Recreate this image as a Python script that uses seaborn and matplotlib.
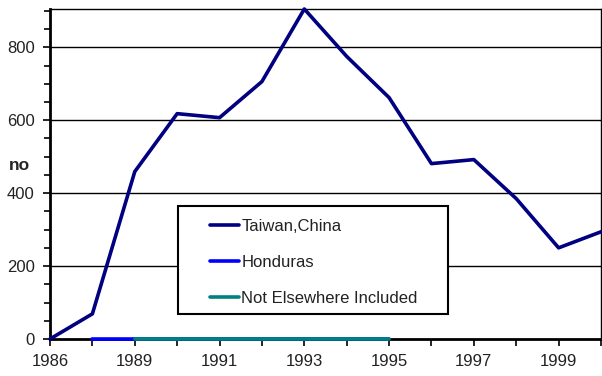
import numpy as np
import pandas as pd
import matplotlib
matplotlib.use("Agg")
import matplotlib.pyplot as plt
import seaborn as sns
from matplotlib.ticker import MultipleLocator
from matplotlib.patches import Rectangle

# category axis (one year is skipped in the source)
years = [1986, 1987, 1989, 1990, 1991, 1992, 1993, 1994, 1995, 1996, 1997, 1998, 1999, 2000]
taiwan = [0, 69, 459, 618, 607, 706, 905, 775, 662, 481, 492, 385, 250, 294]
honduras = [np.nan, 0, 0, 0, 0, 0, 0, 0, 0, np.nan, np.nan, np.nan, np.nan, np.nan]
nei = [np.nan, np.nan, 0, 0, 0, 0, 0, 0, 0, np.nan, np.nan, np.nan, np.nan, np.nan]

series_names = ["Taiwan,China", "Honduras", "Not Elsewhere Included"]
series_colors = ["#000080", "#0000FF", "#008080"]

pos = np.arange(len(years))
df = pd.DataFrame({"pos": pos, series_names[0]: taiwan,
                   series_names[1]: honduras, series_names[2]: nei})

sns.set_style("white")
plt.rcParams["font.family"] = ["Liberation Sans", "DejaVu Sans"]

fig = plt.figure(figsize=(6.02, 3.76), dpi=100)
ax = fig.add_axes([50 / 602, 37 / 376, 551 / 602, 330 / 376])

for name, col in zip(series_names, series_colors):
    sub = df[["pos", name]].dropna()
    sns.lineplot(data=sub, x="pos", y=name, ax=ax, color=col,
                 linewidth=2.6, label=name, clip_on=False)
for ln in ax.get_lines():
    ln.set_zorder(3)

ax.set_xlim(0, len(years) - 1)
ax.set_ylim(0, 905)

for y in [200, 400, 600, 800]:
    ax.axhline(y, color="black", linewidth=1.0, zorder=0)

ax.set_xticks(pos)
ax.set_xticklabels([str(y) if i % 2 == 0 else "" for i, y in enumerate(years)],
                   fontsize=12)
ax.set_yticks([0, 200, 400, 600, 800])
ax.set_yticklabels(["0", "200", "400", "600", "800"], fontsize=12)
ax.yaxis.set_minor_locator(MultipleLocator(50))
ax.tick_params(axis="both", which="major", direction="out", length=5, width=1.2,
               color="black", bottom=True, left=True, pad=6, labelcolor="#222222")
ax.tick_params(axis="y", which="minor", direction="out", length=4, width=1.2,
               color="black", left=True)

ax.set_xlabel("")
ax.set_ylabel("no", fontsize=12.5, fontweight="bold", rotation=0, labelpad=6)
ax.yaxis.set_label_coords(-0.055, 0.503)

for side, sp in ax.spines.items():
    sp.set_color("black")
    sp.set_linewidth(1.0)
    sp.set_zorder(2)
ax.spines["left"].set_linewidth(2.0)
ax.spines["bottom"].set_linewidth(2.0)

# legend box drawn separately so its padding matches the original
box = Rectangle((0.232, 0.076), 0.490, 0.327, transform=ax.transAxes,
                facecolor="white", edgecolor="black", linewidth=1.5, zorder=4)
ax.add_patch(box)
leg = ax.legend(loc="upper left", bbox_to_anchor=(0.290, 0.364), fontsize=12,
                frameon=False, borderpad=0, labelspacing=1.25, handlelength=1.75,
                handletextpad=0.15, borderaxespad=0)
leg.set_zorder(5)
for t in leg.get_texts():
    t.set_color("#222222")

fig.savefig("out.png", dpi=100)
